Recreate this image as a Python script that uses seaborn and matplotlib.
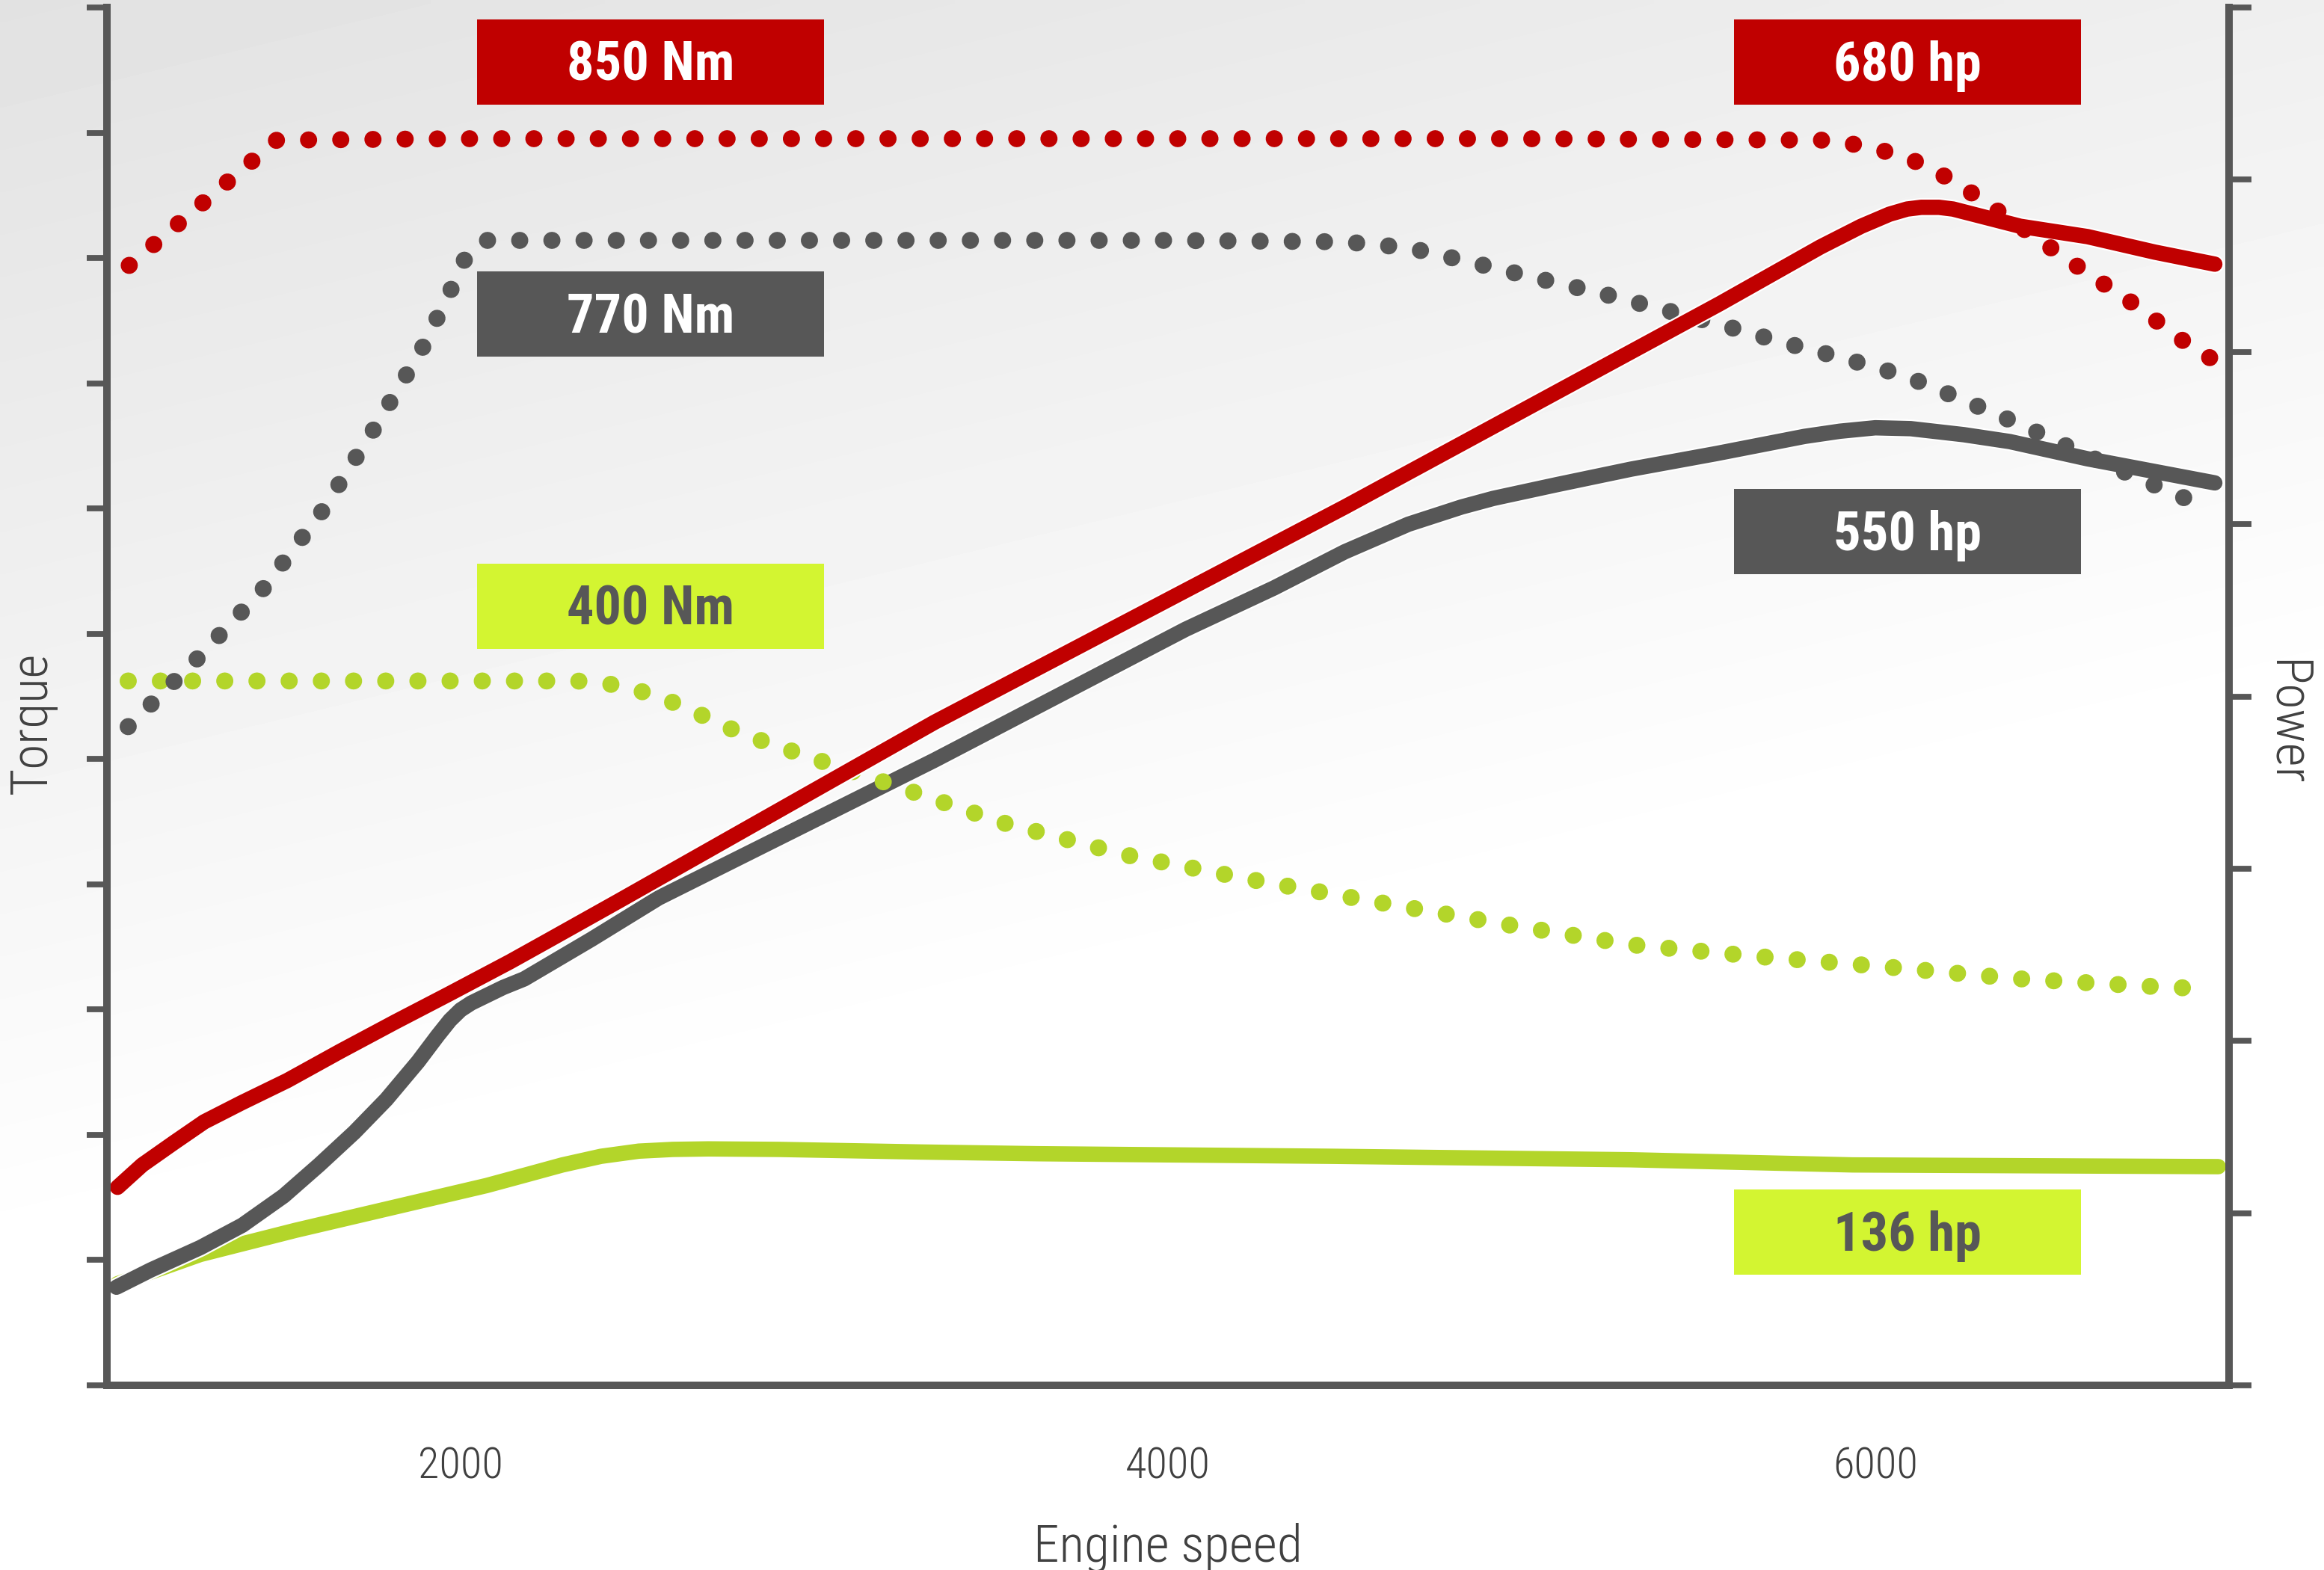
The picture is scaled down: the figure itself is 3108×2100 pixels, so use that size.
import numpy as np
import matplotlib
matplotlib.use("Agg")
import matplotlib.pyplot as plt
import matplotlib.patheffects as pe
from matplotlib.patches import Rectangle
from matplotlib import font_manager
import seaborn as sns

# values (engine speed in rpm)
red_torque_rpm = [1063, 1480, 2000, 3000, 4000, 5000, 5855, 5945, 6035, 6120, 6200,
                  6280, 6430, 6580, 6730, 6875, 6955]
red_torque_nm = [760, 845, 846, 846, 846, 846, 845, 842, 837, 830, 820,
                 808, 783, 758, 734, 708, 696]

grey_torque_rpm = [1060, 1255, 1440, 1605, 1750, 1890, 1970, 2005, 2060, 3000, 4000,
                   4500, 4680, 4860, 5030, 5210, 5385, 5560, 5735, 5910, 6085, 6255,
                   6420, 6580, 6750, 6915]
grey_torque_nm = [447, 493, 540, 592, 647, 703, 742, 762, 777, 777, 777,
                  776, 772, 762, 752, 742, 731, 720, 708, 697, 685, 668,
                  651, 633, 615, 598]

green_torque_rpm = [1060, 1500, 2000, 2330, 2420, 2510, 2595, 2680, 2760, 2845, 2930,
                    3015, 3190, 3530, 3880, 4240, 4590, 4950, 5310, 5670, 6030, 6400,
                    6760, 6940]
green_torque_nm = [478, 478, 478, 478, 476, 471, 464, 455, 446, 438, 431,
                   424, 410, 382, 360, 343, 328, 313, 299, 291, 284, 276,
                   271, 269]

red_power_rpm = [1030, 1100, 1190, 1275, 1380, 1510, 1660, 1815, 1965, 2140, 2245,
                 2445, 3340, 4500, 5560, 5845, 5960, 6040, 6090, 6130, 6180, 6220,
                 6410, 6600, 6790, 6960]
red_power_hp = [115, 128, 141, 153, 164, 177, 194, 211, 227, 246, 258,
                281, 385, 510, 628, 661, 673, 680, 683, 684, 684, 683,
                673, 667, 658, 651]

grey_power_rpm = [1027, 1124, 1264, 1383, 1500, 1600, 1700, 1790, 1880, 1935, 1970,
                  2000, 2030, 2070, 2120, 2180, 2370, 2560, 3340, 4050, 4300, 4500,
                  4680, 4830, 4920, 5100, 5310, 5550, 5800, 5900, 6000, 6100, 6250,
                  6380, 6600, 6960]
grey_power_hp = [57, 67, 80, 93, 110, 128, 147, 166, 188, 203, 212,
                 218, 222, 226, 231, 236, 259, 283, 363, 439, 463, 484,
                 500, 510, 515, 523, 532, 541, 551, 554, 556, 555.5, 552,
                 548, 538, 524]

green_power_rpm = [1030, 1264, 1533, 1803, 2073, 2181, 2288, 2397, 2504, 2600, 2700,
                   2900, 3300, 3631, 4469, 5307, 5936, 6970]
green_power_hp = [59, 76, 90, 103, 116, 122, 128, 133, 136, 137, 137.3,
                  137, 135.5, 134.5, 133, 131, 128, 127]

torque_labels = ["850 Nm", "770 Nm", "400 Nm"]
power_labels = ["680 hp", "550 hp", "136 hp"]

RED = "#c00000"
GREY = "#575757"
LIME = "#b3d52a"
LIME_BOX = "#d3f531"
TXT = "#404040"

sns.set_theme(style="white")
available = {f.name for f in font_manager.fontManager.ttflist}


def first_font(*names):
    for n in names:
        if n in available:
            return n
    return "DejaVu Sans"


cond_font = first_font("Roboto Condensed", "Liberation Sans Narrow", "DejaVu Sans")
plt.rcParams["font.family"] = [cond_font, "DejaVu Sans"]

fig = plt.figure(figsize=(15.54, 10.5), dpi=200)

# soft grey-to-white background
bg = fig.add_axes([0, 0, 1, 1], zorder=-10)
yy, xx = np.mgrid[0:1:210j, 0:1:311j]
t = np.clip(1.25 * yy + 0.45 * xx, 0, 1)
bg.imshow(0.885 + 0.115 * t, cmap="gray", vmin=0, vmax=1, aspect="auto",
          interpolation="bilinear", extent=(0, 1, 0, 1))
bg.axis("off")

ax = fig.add_axes([0.0460, 0.1176, 0.9131, 0.8776])
ax.set_facecolor("none")
ax2 = ax.twinx()
ax2.set_facecolor("none")

ax.set_xlim(1000, 7000)
ax.set_ylim(0, 935)
ax2.set_ylim(0, 800)

halo = [pe.Stroke(linewidth=9.0, foreground="white"), pe.Normal()]
dotted = dict(linewidth=8.2, linestyle=(0, (0.01, 1.88)), dash_capstyle="round")
solid = dict(linewidth=7.4, solid_capstyle="round", solid_joinstyle="round",
             path_effects=halo)

# all lines live on ax so their stacking can be interleaved; power uses ax2 scale
sns.lineplot(x=green_power_rpm, y=green_power_hp, ax=ax, color=LIME, zorder=2.0,
             transform=ax2.transData, **solid)
sns.lineplot(x=grey_power_rpm, y=grey_power_hp, ax=ax, color=GREY, zorder=2.1,
             transform=ax2.transData, **solid)
sns.lineplot(x=green_torque_rpm, y=green_torque_nm, ax=ax, color=LIME, zorder=2.2, **dotted)
sns.lineplot(x=grey_torque_rpm, y=grey_torque_nm, ax=ax, color=GREY, zorder=2.3, **dotted)
sns.lineplot(x=red_power_rpm, y=red_power_hp, ax=ax, color=RED, zorder=2.4,
             transform=ax2.transData, **solid)
sns.lineplot(x=red_torque_rpm, y=red_torque_nm, ax=ax, color=RED, zorder=2.5, **dotted)

ax.set_xlim(1000, 7000)
ax.set_ylim(0, 935)
ax2.set_ylim(0, 800)

# axes, ticks
ax.set_xticks(range(1000, 7001, 1000))
ax.set_xticklabels(["", "2000", "", "4000", "", "6000", ""])
ax.set_yticks(range(0, 936, 85))
ax2.set_yticks(range(0, 801, 100))
ax.tick_params(axis="x", direction="out", length=13.3, width=2.8, color=GREY,
               labelsize=21, labelcolor=TXT, pad=16)
ax.tick_params(axis="y", direction="out", length=9.7, width=2.8, color=GREY,
               labelleft=False)
ax2.tick_params(axis="y", direction="out", length=10.7, width=2.8, color=GREY,
                labelright=False)
for lbl in ax.get_xticklabels():
    lbl.set_fontweight("light")

for s in ["top", "right"]:
    ax.spines[s].set_visible(False)
for s in ["left", "bottom"]:
    ax.spines[s].set_linewidth(3.6)
    ax.spines[s].set_color(GREY)
for s in ["top", "left", "bottom"]:
    ax2.spines[s].set_visible(False)
ax2.spines["right"].set_linewidth(3.6)
ax2.spines["right"].set_color(GREY)

ax.set_xlabel("Engine speed", fontsize=25, color=TXT, fontweight="light")
ax.xaxis.set_label_coords(0.5, -0.128)
ax.xaxis.label.set_va("baseline")
ax.set_ylabel("Torque", fontsize=25, color=TXT, fontweight="light")
ax.yaxis.set_label_coords(-0.0287, 0.481)
ax.yaxis.label.set_va("baseline")
ax2.set_ylabel("Power", fontsize=25, color=TXT, fontweight="light", rotation=270)
ax2.yaxis.set_label_coords(1.0205, 0.481)
ax2.yaxis.label.set_va("baseline")

# value boxes
box_w, box_h = 0.1635, 0.0620
box_specs = [
    (torque_labels[0], 0.1744, 0.9295, RED, "white"),
    (torque_labels[1], 0.1744, 0.7466, GREY, "white"),
    (torque_labels[2], 0.1744, 0.5345, LIME_BOX, GREY),
    (power_labels[0], 0.7667, 0.9295, RED, "white"),
    (power_labels[1], 0.7667, 0.5887, GREY, "white"),
    (power_labels[2], 0.7667, 0.0803, LIME_BOX, GREY),
]
for text, bx, by, fc, tc in box_specs:
    ax.add_patch(Rectangle((bx, by), box_w, box_h, transform=ax.transAxes,
                           facecolor=fc, edgecolor="none", zorder=5, clip_on=False))
    ax.text(bx + box_w / 2, by + box_h / 2 - 0.0136, text, transform=ax.transAxes,
            ha="center", va="baseline", fontsize=26, fontweight="bold", color=tc,
            zorder=6)

fig.savefig("out.png", dpi=200)
